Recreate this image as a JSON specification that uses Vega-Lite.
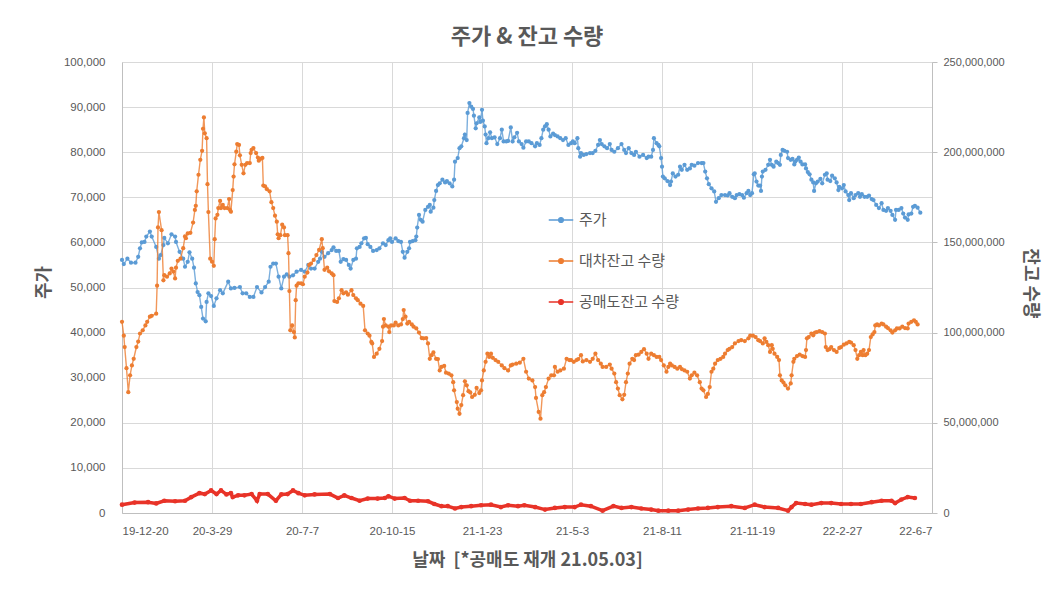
{
  "$schema": "https://vega.github.io/schema/vega-lite/v6.json",
  "width": 810,
  "height": 451,
  "autosize": {"type": "none"},
  "padding": {"left": 122, "top": 62, "right": 122, "bottom": 76},
  "background": "white",
  "title": {
    "text": "주가 & 잔고 수량",
    "font": "Noto Sans CJK KR",
    "fontSize": 22,
    "fontWeight": "bold",
    "color": "#595959",
    "anchor": "middle",
    "baseline": "bottom",
    "offset": 16,
    "dy": 31
  },
  "config": {
    "view": {"stroke": null},
    "axis": {
      "labelFont": "Liberation Sans",
      "labelFontSize": 11.5,
      "labelColor": "#595959",
      "titleFont": "Noto Sans CJK KR",
      "titleFontSize": 18,
      "titleFontWeight": "bold",
      "titleColor": "#595959",
      "gridColor": "#D9D9D9",
      "domainColor": "#BFBFBF",
      "tickColor": "#BFBFBF"
    }
  },
  "datasets": {
    "price": [
      {"d":"2019-12-20","v":56100},{"d":"2019-12-22","v":55200},{"d":"2019-12-26","v":56400},{"d":"2019-12-30","v":55500},
      {"d":"2020-01-04","v":55500},{"d":"2020-01-07","v":56800},{"d":"2020-01-09","v":58700},{"d":"2020-01-11","v":60000},
      {"d":"2020-01-14","v":60100},{"d":"2020-01-16","v":61300},{"d":"2020-01-20","v":62400},{"d":"2020-01-22","v":61300},
      {"d":"2020-01-27","v":59000},{"d":"2020-01-30","v":56400},{"d":"2020-02-01","v":57200},{"d":"2020-02-04","v":59400},
      {"d":"2020-02-05","v":61000},{"d":"2020-02-09","v":59800},{"d":"2020-02-13","v":61800},{"d":"2020-02-17","v":61300},
      {"d":"2020-02-18","v":60100},{"d":"2020-02-22","v":57900},{"d":"2020-02-26","v":56400},{"d":"2020-02-28","v":54600},
      {"d":"2020-03-02","v":55700},{"d":"2020-03-04","v":57800},{"d":"2020-03-07","v":56400},{"d":"2020-03-09","v":54400},
      {"d":"2020-03-11","v":50900},{"d":"2020-03-13","v":49000},{"d":"2020-03-15","v":48300},{"d":"2020-03-17","v":45700},
      {"d":"2020-03-19","v":43100},{"d":"2020-03-22","v":42500},{"d":"2020-03-23","v":46800},{"d":"2020-03-25","v":48700},
      {"d":"2020-03-28","v":48100},{"d":"2020-03-31","v":45900},{"d":"2020-04-03","v":47600},{"d":"2020-04-07","v":49400},
      {"d":"2020-04-10","v":48700},{"d":"2020-04-16","v":51300},{"d":"2020-04-19","v":49800},{"d":"2020-04-23","v":49900},
      {"d":"2020-04-29","v":50100},{"d":"2020-05-02","v":48700},{"d":"2020-05-06","v":48700},{"d":"2020-05-10","v":47900},
      {"d":"2020-05-14","v":47900},{"d":"2020-05-18","v":50100},{"d":"2020-05-23","v":48900},{"d":"2020-05-27","v":50100},
      {"d":"2020-05-31","v":51300},{"d":"2020-06-02","v":54600},{"d":"2020-06-05","v":55300},{"d":"2020-06-08","v":55300},
      {"d":"2020-06-11","v":52400},{"d":"2020-06-14","v":49800},{"d":"2020-06-17","v":52400},{"d":"2020-06-20","v":52900},
      {"d":"2020-06-23","v":52400},{"d":"2020-06-27","v":52700},{"d":"2020-07-01","v":53500},{"d":"2020-07-06","v":53900},
      {"d":"2020-07-10","v":53500},{"d":"2020-07-14","v":55000},{"d":"2020-07-17","v":54200},{"d":"2020-07-21","v":54200},
      {"d":"2020-07-25","v":55700},{"d":"2020-07-27","v":56400},{"d":"2020-07-29","v":57900},{"d":"2020-08-01","v":56800},
      {"d":"2020-08-05","v":57600},{"d":"2020-08-09","v":58300},{"d":"2020-08-11","v":58900},{"d":"2020-08-14","v":58100},
      {"d":"2020-08-17","v":58100},{"d":"2020-08-19","v":55700},{"d":"2020-08-22","v":56300},{"d":"2020-08-25","v":56100},
      {"d":"2020-08-28","v":55000},{"d":"2020-08-30","v":54200},{"d":"2020-09-02","v":56100},{"d":"2020-09-05","v":56400},
      {"d":"2020-09-06","v":58700},{"d":"2020-09-09","v":59000},{"d":"2020-09-11","v":59800},{"d":"2020-09-14","v":60900},
      {"d":"2020-09-16","v":61000},{"d":"2020-09-18","v":59600},{"d":"2020-09-21","v":59000},{"d":"2020-09-24","v":58100},
      {"d":"2020-09-28","v":58300},{"d":"2020-10-01","v":58700},{"d":"2020-10-05","v":59800},{"d":"2020-10-08","v":59400},
      {"d":"2020-10-11","v":60500},{"d":"2020-10-13","v":60900},{"d":"2020-10-15","v":60100},{"d":"2020-10-19","v":60900},
      {"d":"2020-10-22","v":60300},{"d":"2020-10-25","v":60100},{"d":"2020-10-27","v":57900},{"d":"2020-10-29","v":56600},
      {"d":"2020-11-01","v":57900},{"d":"2020-11-03","v":58700},{"d":"2020-11-04","v":60100},{"d":"2020-11-07","v":60300},
      {"d":"2020-11-10","v":60500},{"d":"2020-11-11","v":61300},{"d":"2020-11-12","v":63300},{"d":"2020-11-14","v":66100},
      {"d":"2020-11-16","v":65000},{"d":"2020-11-18","v":64600},{"d":"2020-11-21","v":67200},{"d":"2020-11-24","v":67900},
      {"d":"2020-11-26","v":68300},{"d":"2020-11-27","v":66800},{"d":"2020-11-30","v":67700},{"d":"2020-12-01","v":69400},
      {"d":"2020-12-03","v":71400},{"d":"2020-12-05","v":72700},{"d":"2020-12-07","v":73100},{"d":"2020-12-10","v":73900},
      {"d":"2020-12-13","v":73300},{"d":"2020-12-15","v":73600},{"d":"2020-12-18","v":73100},{"d":"2020-12-21","v":72400},
      {"d":"2020-12-23","v":73900},{"d":"2020-12-24","v":77900},{"d":"2020-12-27","v":78700},{"d":"2020-12-29","v":80900},
      {"d":"2020-12-31","v":81300},{"d":"2021-01-03","v":83100},{"d":"2021-01-04","v":83900},{"d":"2021-01-06","v":82700},
      {"d":"2021-01-07","v":88700},{"d":"2021-01-09","v":90900},{"d":"2021-01-11","v":90100},{"d":"2021-01-13","v":89600},
      {"d":"2021-01-14","v":88100},{"d":"2021-01-16","v":85300},{"d":"2021-01-17","v":86400},{"d":"2021-01-20","v":87700},
      {"d":"2021-01-21","v":86700},{"d":"2021-01-23","v":89400},{"d":"2021-01-24","v":87000},{"d":"2021-01-26","v":85700},
      {"d":"2021-01-27","v":83900},{"d":"2021-01-28","v":82000},{"d":"2021-01-30","v":83100},{"d":"2021-02-01","v":84400},
      {"d":"2021-02-03","v":83100},{"d":"2021-02-06","v":83300},{"d":"2021-02-09","v":81800},{"d":"2021-02-12","v":83100},
      {"d":"2021-02-14","v":85000},{"d":"2021-02-16","v":82400},{"d":"2021-02-19","v":82400},{"d":"2021-02-21","v":82500},
      {"d":"2021-02-24","v":85500},{"d":"2021-02-26","v":82400},{"d":"2021-02-28","v":83300},{"d":"2021-03-03","v":84300},
      {"d":"2021-03-05","v":82400},{"d":"2021-03-08","v":81800},{"d":"2021-03-10","v":81000},{"d":"2021-03-13","v":82400},
      {"d":"2021-03-16","v":82400},{"d":"2021-03-19","v":82000},{"d":"2021-03-23","v":81300},{"d":"2021-03-25","v":82000},
      {"d":"2021-03-28","v":81600},{"d":"2021-03-30","v":83100},{"d":"2021-04-01","v":85000},{"d":"2021-04-03","v":85700},
      {"d":"2021-04-05","v":86200},{"d":"2021-04-07","v":85000},{"d":"2021-04-09","v":83500},{"d":"2021-04-12","v":84100},
      {"d":"2021-04-14","v":83800},{"d":"2021-04-17","v":83500},{"d":"2021-04-20","v":83100},{"d":"2021-04-23","v":82700},
      {"d":"2021-04-26","v":83100},{"d":"2021-04-29","v":81600},{"d":"2021-05-02","v":82000},{"d":"2021-05-04","v":82400},
      {"d":"2021-05-06","v":82000},{"d":"2021-05-09","v":83100},{"d":"2021-05-10","v":80900},{"d":"2021-05-12","v":79000},
      {"d":"2021-05-13","v":79800},{"d":"2021-05-16","v":79400},{"d":"2021-05-19","v":79600},{"d":"2021-05-23","v":79800},
      {"d":"2021-05-26","v":79800},{"d":"2021-05-29","v":80300},{"d":"2021-06-01","v":81600},{"d":"2021-06-03","v":82700},
      {"d":"2021-06-05","v":81800},{"d":"2021-06-08","v":81300},{"d":"2021-06-11","v":80900},{"d":"2021-06-14","v":81800},
      {"d":"2021-06-16","v":80500},{"d":"2021-06-19","v":80100},{"d":"2021-06-23","v":80900},{"d":"2021-06-27","v":81800},
      {"d":"2021-06-30","v":80500},{"d":"2021-07-02","v":79800},{"d":"2021-07-05","v":80900},{"d":"2021-07-08","v":79800},
      {"d":"2021-07-11","v":79400},{"d":"2021-07-13","v":80100},{"d":"2021-07-17","v":79000},{"d":"2021-07-21","v":79400},
      {"d":"2021-07-25","v":78700},{"d":"2021-07-27","v":79000},{"d":"2021-07-30","v":79000},{"d":"2021-08-01","v":80500},
      {"d":"2021-08-02","v":83100},{"d":"2021-08-05","v":82000},{"d":"2021-08-07","v":81600},{"d":"2021-08-08","v":81300},
      {"d":"2021-08-10","v":78700},{"d":"2021-08-11","v":76800},{"d":"2021-08-12","v":74600},{"d":"2021-08-14","v":74200},
      {"d":"2021-08-17","v":73600},{"d":"2021-08-20","v":72700},{"d":"2021-08-21","v":73500},{"d":"2021-08-23","v":75300},
      {"d":"2021-08-26","v":74600},{"d":"2021-08-29","v":75000},{"d":"2021-08-31","v":76800},{"d":"2021-09-02","v":76100},
      {"d":"2021-09-05","v":77200},{"d":"2021-09-08","v":76100},{"d":"2021-09-11","v":76400},{"d":"2021-09-13","v":77200},
      {"d":"2021-09-16","v":77000},{"d":"2021-09-20","v":77600},{"d":"2021-09-24","v":77600},{"d":"2021-09-26","v":77600},
      {"d":"2021-09-28","v":75700},{"d":"2021-09-30","v":74200},{"d":"2021-10-02","v":72900},{"d":"2021-10-05","v":72000},
      {"d":"2021-10-08","v":71300},{"d":"2021-10-10","v":69000},{"d":"2021-10-13","v":69800},{"d":"2021-10-16","v":70500},
      {"d":"2021-10-20","v":70500},{"d":"2021-10-23","v":70400},{"d":"2021-10-25","v":70900},{"d":"2021-10-28","v":70100},
      {"d":"2021-10-31","v":69800},{"d":"2021-11-02","v":70500},{"d":"2021-11-05","v":70700},{"d":"2021-11-08","v":70500},
      {"d":"2021-11-10","v":69900},{"d":"2021-11-13","v":70900},{"d":"2021-11-15","v":71400},{"d":"2021-11-17","v":70500},
      {"d":"2021-11-19","v":70900},{"d":"2021-11-21","v":75100},{"d":"2021-11-22","v":75300},{"d":"2021-11-24","v":73500},
      {"d":"2021-11-26","v":72600},{"d":"2021-11-28","v":72600},{"d":"2021-11-29","v":71400},{"d":"2021-11-30","v":74600},
      {"d":"2021-12-01","v":75700},{"d":"2021-12-04","v":76100},{"d":"2021-12-07","v":77200},{"d":"2021-12-09","v":78300},
      {"d":"2021-12-11","v":77200},{"d":"2021-12-13","v":76800},{"d":"2021-12-16","v":77900},{"d":"2021-12-18","v":77600},
      {"d":"2021-12-20","v":77200},{"d":"2021-12-21","v":79400},{"d":"2021-12-23","v":80500},{"d":"2021-12-25","v":80300},
      {"d":"2021-12-28","v":80100},{"d":"2021-12-29","v":78700},{"d":"2022-01-01","v":78300},{"d":"2022-01-03","v":78500},
      {"d":"2022-01-05","v":77300},{"d":"2022-01-06","v":77900},{"d":"2022-01-08","v":78300},{"d":"2022-01-10","v":78800},
      {"d":"2022-01-12","v":77900},{"d":"2022-01-14","v":77300},{"d":"2022-01-17","v":77300},{"d":"2022-01-18","v":76400},
      {"d":"2022-01-20","v":75600},{"d":"2022-01-22","v":75100},{"d":"2022-01-24","v":73900},{"d":"2022-01-26","v":73300},
      {"d":"2022-01-27","v":71400},{"d":"2022-01-29","v":73100},{"d":"2022-01-31","v":73500},{"d":"2022-02-03","v":74100},
      {"d":"2022-02-05","v":73100},{"d":"2022-02-08","v":75000},{"d":"2022-02-10","v":75300},{"d":"2022-02-11","v":73900},
      {"d":"2022-02-14","v":73600},{"d":"2022-02-16","v":74800},{"d":"2022-02-19","v":74200},{"d":"2022-02-21","v":73300},
      {"d":"2022-02-23","v":71600},{"d":"2022-02-24","v":72300},{"d":"2022-02-27","v":72000},{"d":"2022-03-01","v":72700},
      {"d":"2022-03-03","v":71300},{"d":"2022-03-06","v":70500},{"d":"2022-03-07","v":69400},{"d":"2022-03-09","v":70900},
      {"d":"2022-03-12","v":69800},{"d":"2022-03-14","v":70500},{"d":"2022-03-17","v":70900},{"d":"2022-03-19","v":70100},
      {"d":"2022-03-21","v":70700},{"d":"2022-03-24","v":70100},{"d":"2022-03-27","v":70100},{"d":"2022-03-29","v":70400},
      {"d":"2022-04-01","v":69600},{"d":"2022-04-03","v":69400},{"d":"2022-04-06","v":68300},{"d":"2022-04-09","v":67600},
      {"d":"2022-04-12","v":68700},{"d":"2022-04-14","v":67200},{"d":"2022-04-17","v":67000},{"d":"2022-04-19","v":67600},
      {"d":"2022-04-22","v":67000},{"d":"2022-04-24","v":66100},{"d":"2022-04-27","v":65000},{"d":"2022-04-28","v":67200},
      {"d":"2022-05-01","v":67200},{"d":"2022-05-04","v":67600},{"d":"2022-05-06","v":66400},{"d":"2022-05-08","v":65500},
      {"d":"2022-05-11","v":65000},{"d":"2022-05-12","v":66200},{"d":"2022-05-15","v":66400},{"d":"2022-05-17","v":67900},
      {"d":"2022-05-19","v":68100},{"d":"2022-05-22","v":67700},{"d":"2022-05-25","v":66600}
    ],
    "lend": [
      {"d":"2019-12-20","v":106000000},{"d":"2019-12-22","v":98300000},{"d":"2019-12-23","v":92000000},{"d":"2019-12-25","v":80300000},
      {"d":"2019-12-27","v":67000000},{"d":"2019-12-29","v":76300000},{"d":"2019-12-31","v":81800000},{"d":"2020-01-02","v":85500000},
      {"d":"2020-01-05","v":92000000},{"d":"2020-01-07","v":95000000},{"d":"2020-01-09","v":99500000},{"d":"2020-01-12","v":101300000},
      {"d":"2020-01-15","v":104000000},{"d":"2020-01-17","v":106000000},{"d":"2020-01-20","v":108800000},{"d":"2020-01-22","v":109300000},
      {"d":"2020-01-27","v":110500000},{"d":"2020-01-28","v":126000000},{"d":"2020-01-29","v":158300000},{"d":"2020-01-30","v":166800000},
      {"d":"2020-02-02","v":156800000},{"d":"2020-02-04","v":129000000},{"d":"2020-02-05","v":131800000},{"d":"2020-02-08","v":131000000},
      {"d":"2020-02-11","v":132800000},{"d":"2020-02-13","v":135500000},{"d":"2020-02-15","v":133800000},{"d":"2020-02-17","v":130000000},
      {"d":"2020-02-18","v":136000000},{"d":"2020-02-20","v":139800000},{"d":"2020-02-23","v":141000000},{"d":"2020-02-26","v":146800000},
      {"d":"2020-02-28","v":153300000},{"d":"2020-02-29","v":152300000},{"d":"2020-03-02","v":155000000},{"d":"2020-03-05","v":155300000},
      {"d":"2020-03-08","v":161000000},{"d":"2020-03-10","v":168000000},{"d":"2020-03-11","v":170300000},{"d":"2020-03-12","v":178300000},
      {"d":"2020-03-14","v":187500000},{"d":"2020-03-16","v":195800000},{"d":"2020-03-18","v":200800000},{"d":"2020-03-19","v":213000000},
      {"d":"2020-03-20","v":219300000},{"d":"2020-03-21","v":210500000},{"d":"2020-03-23","v":207800000},{"d":"2020-03-24","v":182300000},
      {"d":"2020-03-25","v":166800000},{"d":"2020-03-27","v":141000000},{"d":"2020-03-29","v":139300000},{"d":"2020-03-31","v":137000000},
      {"d":"2020-04-01","v":151800000},{"d":"2020-04-02","v":163300000},{"d":"2020-04-04","v":165300000},{"d":"2020-04-05","v":169000000},
      {"d":"2020-04-07","v":173000000},{"d":"2020-04-08","v":169000000},{"d":"2020-04-10","v":170800000},{"d":"2020-04-12","v":169000000},
      {"d":"2020-04-15","v":169000000},{"d":"2020-04-17","v":174000000},{"d":"2020-04-18","v":168000000},{"d":"2020-04-19","v":167000000},
      {"d":"2020-04-21","v":179000000},{"d":"2020-04-22","v":186500000},{"d":"2020-04-23","v":193300000},{"d":"2020-04-25","v":200300000},
      {"d":"2020-04-26","v":204500000},{"d":"2020-04-28","v":204000000},{"d":"2020-04-29","v":198300000},{"d":"2020-05-01","v":193000000},
      {"d":"2020-05-03","v":188300000},{"d":"2020-05-05","v":193000000},{"d":"2020-05-07","v":194000000},{"d":"2020-05-10","v":194000000},
      {"d":"2020-05-11","v":199500000},{"d":"2020-05-12","v":201300000},{"d":"2020-05-14","v":202300000},{"d":"2020-05-17","v":199500000},
      {"d":"2020-05-19","v":197000000},{"d":"2020-05-20","v":195300000},{"d":"2020-05-22","v":196300000},{"d":"2020-05-24","v":196800000},
      {"d":"2020-05-25","v":181500000},{"d":"2020-05-27","v":181000000},{"d":"2020-05-29","v":179500000},{"d":"2020-06-01","v":178300000},
      {"d":"2020-06-03","v":172300000},{"d":"2020-06-05","v":169000000},{"d":"2020-06-07","v":164800000},{"d":"2020-06-09","v":161500000},
      {"d":"2020-06-10","v":154500000},{"d":"2020-06-11","v":152300000},{"d":"2020-06-13","v":154000000},{"d":"2020-06-15","v":159800000},
      {"d":"2020-06-17","v":158300000},{"d":"2020-06-18","v":154000000},{"d":"2020-06-21","v":154000000},{"d":"2020-06-22","v":144000000},
      {"d":"2020-06-23","v":123000000},{"d":"2020-06-24","v":101300000},{"d":"2020-06-26","v":104000000},{"d":"2020-06-28","v":100300000},
      {"d":"2020-06-29","v":97300000},{"d":"2020-06-30","v":118000000},{"d":"2020-07-01","v":126000000},{"d":"2020-07-03","v":127300000},
      {"d":"2020-07-06","v":127300000},{"d":"2020-07-08","v":126800000},{"d":"2020-07-10","v":131000000},{"d":"2020-07-13","v":133300000},
      {"d":"2020-07-15","v":137500000},{"d":"2020-07-17","v":138300000},{"d":"2020-07-20","v":140300000},{"d":"2020-07-23","v":143000000},
      {"d":"2020-07-26","v":145800000},{"d":"2020-07-29","v":151800000},{"d":"2020-07-30","v":146800000},{"d":"2020-08-01","v":134800000},
      {"d":"2020-08-04","v":136000000},{"d":"2020-08-06","v":134000000},{"d":"2020-08-09","v":132800000},{"d":"2020-08-11","v":131800000},
      {"d":"2020-08-12","v":117500000},{"d":"2020-08-15","v":117000000},{"d":"2020-08-17","v":119000000},{"d":"2020-08-20","v":123500000},
      {"d":"2020-08-22","v":121800000},{"d":"2020-08-25","v":122300000},{"d":"2020-08-27","v":121000000},{"d":"2020-08-31","v":123500000},
      {"d":"2020-09-02","v":120800000},{"d":"2020-09-05","v":119000000},{"d":"2020-09-07","v":118000000},{"d":"2020-09-10","v":116000000},
      {"d":"2020-09-13","v":114800000},{"d":"2020-09-15","v":101300000},{"d":"2020-09-18","v":99500000},{"d":"2020-09-20","v":98300000},
      {"d":"2020-09-22","v":94800000},{"d":"2020-09-23","v":94000000},{"d":"2020-09-25","v":86500000},{"d":"2020-09-28","v":88300000},
      {"d":"2020-10-01","v":91000000},{"d":"2020-10-04","v":95300000},{"d":"2020-10-05","v":103300000},{"d":"2020-10-06","v":107500000},
      {"d":"2020-10-08","v":104000000},{"d":"2020-10-11","v":103300000},{"d":"2020-10-12","v":100300000},{"d":"2020-10-14","v":104000000},
      {"d":"2020-10-17","v":104000000},{"d":"2020-10-19","v":105500000},{"d":"2020-10-22","v":104000000},{"d":"2020-10-25","v":104500000},
      {"d":"2020-10-27","v":107500000},{"d":"2020-10-28","v":112500000},{"d":"2020-10-30","v":108800000},{"d":"2020-11-01","v":105000000},
      {"d":"2020-11-03","v":106000000},{"d":"2020-11-06","v":104500000},{"d":"2020-11-08","v":103300000},{"d":"2020-11-11","v":102300000},
      {"d":"2020-11-14","v":100000000},{"d":"2020-11-17","v":97000000},{"d":"2020-11-19","v":96800000},{"d":"2020-11-22","v":97000000},
      {"d":"2020-11-24","v":94000000},{"d":"2020-11-26","v":85500000},{"d":"2020-11-28","v":87500000},{"d":"2020-11-30","v":89000000},
      {"d":"2020-12-03","v":85500000},{"d":"2020-12-05","v":85300000},{"d":"2020-12-07","v":79000000},{"d":"2020-12-09","v":81000000},
      {"d":"2020-12-12","v":81500000},{"d":"2020-12-14","v":77800000},{"d":"2020-12-17","v":77300000},{"d":"2020-12-20","v":76300000},
      {"d":"2020-12-22","v":72500000},{"d":"2020-12-23","v":68000000},{"d":"2020-12-26","v":61500000},{"d":"2020-12-27","v":57800000},
      {"d":"2020-12-29","v":55000000},{"d":"2020-12-31","v":59800000},{"d":"2021-01-02","v":65300000},{"d":"2021-01-04","v":73000000},
      {"d":"2021-01-06","v":70800000},{"d":"2021-01-08","v":67500000},{"d":"2021-01-10","v":66800000},{"d":"2021-01-12","v":64300000},
      {"d":"2021-01-15","v":65500000},{"d":"2021-01-17","v":69300000},{"d":"2021-01-20","v":66500000},{"d":"2021-01-22","v":68000000},
      {"d":"2021-01-23","v":73500000},{"d":"2021-01-25","v":79000000},{"d":"2021-01-27","v":83800000},{"d":"2021-01-29","v":88300000},
      {"d":"2021-01-31","v":86500000},{"d":"2021-02-02","v":88300000},{"d":"2021-02-04","v":86000000},{"d":"2021-02-07","v":84800000},
      {"d":"2021-02-10","v":83800000},{"d":"2021-02-14","v":81800000},{"d":"2021-02-17","v":80300000},{"d":"2021-02-21","v":79000000},
      {"d":"2021-02-24","v":81800000},{"d":"2021-02-26","v":82300000},{"d":"2021-03-02","v":82800000},{"d":"2021-03-06","v":83300000},
      {"d":"2021-03-10","v":85500000},{"d":"2021-03-13","v":78300000},{"d":"2021-03-16","v":74500000},{"d":"2021-03-20","v":73500000},
      {"d":"2021-03-23","v":69800000},{"d":"2021-03-24","v":63800000},{"d":"2021-03-27","v":56000000},{"d":"2021-03-29","v":52300000},
      {"d":"2021-03-31","v":65300000},{"d":"2021-04-02","v":67000000},{"d":"2021-04-04","v":69800000},{"d":"2021-04-07","v":74500000},
      {"d":"2021-04-10","v":76300000},{"d":"2021-04-13","v":76300000},{"d":"2021-04-14","v":81000000},{"d":"2021-04-17","v":78300000},
      {"d":"2021-04-20","v":79000000},{"d":"2021-04-24","v":80000000},{"d":"2021-04-27","v":85500000},{"d":"2021-04-30","v":84800000},
      {"d":"2021-05-02","v":84800000},{"d":"2021-05-05","v":83800000},{"d":"2021-05-08","v":84800000},{"d":"2021-05-10","v":85300000},
      {"d":"2021-05-13","v":87500000},{"d":"2021-05-15","v":84000000},{"d":"2021-05-19","v":84800000},{"d":"2021-05-23","v":83800000},
      {"d":"2021-05-26","v":85500000},{"d":"2021-05-29","v":88300000},{"d":"2021-06-01","v":84800000},{"d":"2021-06-04","v":82800000},
      {"d":"2021-06-06","v":81000000},{"d":"2021-06-10","v":81000000},{"d":"2021-06-14","v":82300000},{"d":"2021-06-16","v":80000000},
      {"d":"2021-06-19","v":77300000},{"d":"2021-06-21","v":72500000},{"d":"2021-06-23","v":69000000},{"d":"2021-06-25","v":65300000},
      {"d":"2021-06-28","v":63000000},{"d":"2021-06-30","v":65500000},{"d":"2021-07-02","v":72500000},{"d":"2021-07-04","v":77300000},
      {"d":"2021-07-06","v":82800000},{"d":"2021-07-09","v":85500000},{"d":"2021-07-11","v":84800000},{"d":"2021-07-13","v":87500000},
      {"d":"2021-07-16","v":87800000},{"d":"2021-07-19","v":89300000},{"d":"2021-07-22","v":90800000},{"d":"2021-07-25","v":88300000},
      {"d":"2021-07-27","v":85500000},{"d":"2021-07-30","v":88300000},{"d":"2021-08-02","v":87500000},{"d":"2021-08-05","v":86500000},
      {"d":"2021-08-08","v":86500000},{"d":"2021-08-10","v":84800000},{"d":"2021-08-13","v":81800000},{"d":"2021-08-16","v":78300000},
      {"d":"2021-08-18","v":81000000},{"d":"2021-08-20","v":82800000},{"d":"2021-08-22","v":81800000},{"d":"2021-08-25","v":81000000},
      {"d":"2021-08-28","v":80000000},{"d":"2021-08-31","v":81000000},{"d":"2021-09-02","v":79800000},{"d":"2021-09-05","v":79000000},
      {"d":"2021-09-08","v":78300000},{"d":"2021-09-11","v":74500000},{"d":"2021-09-13","v":76300000},{"d":"2021-09-16","v":77800000},
      {"d":"2021-09-19","v":76300000},{"d":"2021-09-22","v":72500000},{"d":"2021-09-24","v":69000000},{"d":"2021-09-26","v":68000000},
      {"d":"2021-09-29","v":64300000},{"d":"2021-10-01","v":66000000},{"d":"2021-10-03","v":69800000},{"d":"2021-10-05","v":78300000},
      {"d":"2021-10-07","v":80000000},{"d":"2021-10-09","v":82800000},{"d":"2021-10-12","v":84800000},{"d":"2021-10-15","v":85500000},
      {"d":"2021-10-18","v":86500000},{"d":"2021-10-20","v":88300000},{"d":"2021-10-23","v":90300000},{"d":"2021-10-25","v":91000000},
      {"d":"2021-10-28","v":92000000},{"d":"2021-10-31","v":94000000},{"d":"2021-11-04","v":95300000},{"d":"2021-11-07","v":95800000},
      {"d":"2021-11-11","v":95300000},{"d":"2021-11-15","v":96800000},{"d":"2021-11-17","v":98300000},{"d":"2021-11-20","v":98300000},
      {"d":"2021-11-23","v":97500000},{"d":"2021-11-26","v":95800000},{"d":"2021-11-28","v":95300000},{"d":"2021-12-01","v":94000000},
      {"d":"2021-12-03","v":96800000},{"d":"2021-12-05","v":94800000},{"d":"2021-12-07","v":93000000},{"d":"2021-12-09","v":89300000},
      {"d":"2021-12-11","v":93000000},{"d":"2021-12-12","v":91000000},{"d":"2021-12-14","v":88300000},{"d":"2021-12-17","v":86500000},
      {"d":"2021-12-19","v":84800000},{"d":"2021-12-20","v":76300000},{"d":"2021-12-22","v":73500000},{"d":"2021-12-24","v":72300000},
      {"d":"2021-12-26","v":70800000},{"d":"2021-12-29","v":69000000},{"d":"2022-01-01","v":71800000},{"d":"2022-01-02","v":76300000},
      {"d":"2022-01-04","v":83800000},{"d":"2022-01-05","v":85500000},{"d":"2022-01-08","v":87000000},{"d":"2022-01-11","v":87800000},
      {"d":"2022-01-14","v":87000000},{"d":"2022-01-17","v":86500000},{"d":"2022-01-18","v":90300000},{"d":"2022-01-19","v":96800000},
      {"d":"2022-01-21","v":97500000},{"d":"2022-01-24","v":99500000},{"d":"2022-01-26","v":98500000},{"d":"2022-01-28","v":100000000},
      {"d":"2022-01-30","v":100300000},{"d":"2022-02-02","v":100800000},{"d":"2022-02-05","v":100300000},{"d":"2022-02-08","v":99500000},
      {"d":"2022-02-09","v":92000000},{"d":"2022-02-11","v":90300000},{"d":"2022-02-13","v":90800000},{"d":"2022-02-15","v":92000000},
      {"d":"2022-02-18","v":90300000},{"d":"2022-02-21","v":89300000},{"d":"2022-02-24","v":91500000},{"d":"2022-02-26","v":92000000},
      {"d":"2022-03-01","v":93300000},{"d":"2022-03-04","v":94000000},{"d":"2022-03-07","v":94800000},{"d":"2022-03-09","v":94500000},
      {"d":"2022-03-12","v":93000000},{"d":"2022-03-14","v":90300000},{"d":"2022-03-16","v":85500000},{"d":"2022-03-18","v":87500000},
      {"d":"2022-03-20","v":89300000},{"d":"2022-03-22","v":87500000},{"d":"2022-03-23","v":90300000},{"d":"2022-03-25","v":87500000},
      {"d":"2022-03-27","v":88300000},{"d":"2022-03-29","v":90300000},{"d":"2022-03-31","v":97500000},{"d":"2022-04-02","v":99000000},
      {"d":"2022-04-04","v":100300000},{"d":"2022-04-05","v":104000000},{"d":"2022-04-07","v":104500000},{"d":"2022-04-09","v":104000000},
      {"d":"2022-04-12","v":105000000},{"d":"2022-04-14","v":104500000},{"d":"2022-04-17","v":103300000},{"d":"2022-04-19","v":102500000},
      {"d":"2022-04-22","v":101300000},{"d":"2022-04-24","v":100000000},{"d":"2022-04-27","v":101300000},{"d":"2022-04-29","v":102300000},
      {"d":"2022-05-02","v":102300000},{"d":"2022-05-05","v":103300000},{"d":"2022-05-08","v":102500000},{"d":"2022-05-11","v":102300000},
      {"d":"2022-05-12","v":105000000},{"d":"2022-05-15","v":106000000},{"d":"2022-05-18","v":106800000},{"d":"2022-05-20","v":106000000},
      {"d":"2022-05-22","v":104500000}
    ],
    "short": [
      {"d":"2019-12-20","v":4600000},{"d":"2020-01-03","v":5800000},{"d":"2020-01-18","v":6000000},{"d":"2020-01-27","v":5300000},
      {"d":"2020-02-05","v":6800000},{"d":"2020-02-17","v":6500000},{"d":"2020-02-28","v":6800000},{"d":"2020-03-06","v":8800000},
      {"d":"2020-03-15","v":11000000},{"d":"2020-03-21","v":10500000},{"d":"2020-03-28","v":12500000},{"d":"2020-04-03","v":10500000},
      {"d":"2020-04-08","v":12500000},{"d":"2020-04-14","v":10300000},{"d":"2020-04-19","v":11000000},{"d":"2020-04-21","v":8800000},
      {"d":"2020-04-27","v":9800000},{"d":"2020-05-04","v":9800000},{"d":"2020-05-12","v":10500000},{"d":"2020-05-18","v":6800000},
      {"d":"2020-05-21","v":10500000},{"d":"2020-05-30","v":10500000},{"d":"2020-06-08","v":6800000},{"d":"2020-06-14","v":10300000},
      {"d":"2020-06-21","v":10500000},{"d":"2020-06-27","v":12500000},{"d":"2020-07-03","v":11000000},{"d":"2020-07-10","v":9800000},
      {"d":"2020-07-21","v":10300000},{"d":"2020-08-07","v":10500000},{"d":"2020-08-16","v":8300000},{"d":"2020-08-23","v":9800000},
      {"d":"2020-08-31","v":8300000},{"d":"2020-09-09","v":6800000},{"d":"2020-09-18","v":8000000},{"d":"2020-09-29","v":8000000},
      {"d":"2020-10-07","v":8300000},{"d":"2020-10-11","v":9300000},{"d":"2020-10-18","v":8000000},{"d":"2020-10-29","v":8300000},
      {"d":"2020-11-04","v":6800000},{"d":"2020-11-13","v":6800000},{"d":"2020-11-24","v":6500000},{"d":"2020-12-01","v":5000000},
      {"d":"2020-12-09","v":3800000},{"d":"2020-12-16","v":3800000},{"d":"2020-12-24","v":2500000},{"d":"2020-12-31","v":3300000},
      {"d":"2021-01-11","v":3800000},{"d":"2021-01-22","v":4300000},{"d":"2021-02-02","v":4600000},{"d":"2021-02-13","v":3300000},
      {"d":"2021-02-21","v":4300000},{"d":"2021-03-04","v":3800000},{"d":"2021-03-11","v":4300000},{"d":"2021-03-23","v":3300000},
      {"d":"2021-04-03","v":1900000},{"d":"2021-04-14","v":2800000},{"d":"2021-04-25","v":3300000},{"d":"2021-05-06","v":3300000},
      {"d":"2021-05-13","v":4600000},{"d":"2021-05-24","v":3800000},{"d":"2021-06-06","v":1300000},{"d":"2021-06-18","v":3800000},
      {"d":"2021-06-27","v":2800000},{"d":"2021-07-08","v":3300000},{"d":"2021-07-19","v":2500000},{"d":"2021-07-30","v":1900000},
      {"d":"2021-08-07","v":1300000},{"d":"2021-08-18","v":1300000},{"d":"2021-08-29","v":1300000},{"d":"2021-09-09","v":1900000},
      {"d":"2021-09-20","v":2500000},{"d":"2021-10-01","v":2800000},{"d":"2021-10-12","v":3300000},{"d":"2021-10-27","v":3800000},
      {"d":"2021-11-11","v":2800000},{"d":"2021-11-22","v":4600000},{"d":"2021-12-03","v":3300000},{"d":"2021-12-18","v":2800000},
      {"d":"2021-12-29","v":1300000},{"d":"2022-01-02","v":3300000},{"d":"2022-01-07","v":5500000},{"d":"2022-01-17","v":5000000},
      {"d":"2022-01-24","v":4600000},{"d":"2022-02-04","v":5500000},{"d":"2022-02-15","v":5500000},{"d":"2022-02-26","v":5000000},
      {"d":"2022-03-09","v":5000000},{"d":"2022-03-20","v":5000000},{"d":"2022-04-01","v":6000000},{"d":"2022-04-12","v":6800000},
      {"d":"2022-04-23","v":6800000},{"d":"2022-04-27","v":5500000},{"d":"2022-05-04","v":7500000},{"d":"2022-05-11","v":8800000},
      {"d":"2022-05-19","v":8300000}
    ]
  },
  "encoding": {
    "x": {
      "field": "d",
      "type": "temporal",
      "scale": {
        "type": "utc",
        "domain": [
          {"year": 2019, "month": 12, "date": 20, "utc": true},
          {"year": 2022, "month": 6, "date": 7, "utc": true}
        ]
      },
      "axis": {
        "values": [
          {"year": 2019, "month": 12, "date": 20, "utc": true},
          {"year": 2020, "month": 3, "date": 29, "utc": true},
          {"year": 2020, "month": 7, "date": 7, "utc": true},
          {"year": 2020, "month": 10, "date": 15, "utc": true},
          {"year": 2021, "month": 1, "date": 23, "utc": true},
          {"year": 2021, "month": 5, "date": 3, "utc": true},
          {"year": 2021, "month": 8, "date": 11, "utc": true},
          {"year": 2021, "month": 11, "date": 19, "utc": true},
          {"year": 2022, "month": 2, "date": 27, "utc": true},
          {"year": 2022, "month": 6, "date": 7, "utc": true}
        ],
        "format": "%y-%-m-%-d",
        "grid": true,
        "ticks": false,
        "labelPadding": 12,
        "labelOverlap": false,
        "title": "날짜 \u00a0[*공매도 재개 21.05.03]",
        "titleY": 47,
        "titleBaseline": "middle"
      }
    }
  },
  "layer": [
    {
      "data": {"name": "price"},
      "mark": {"type": "line", "strokeWidth": 1.4, "strokeOpacity": 0.8, "point": {"filled": true, "size": 18}},
      "encoding": {
        "y": {
          "field": "v",
          "type": "quantitative",
          "scale": {"domain": [0, 100000], "nice": false},
          "axis": {
            "orient": "left",
            "title": "주가",
            "values": [0, 10000, 20000, 30000, 40000, 50000, 60000, 70000, 80000, 90000, 100000],
            "format": ",d",
            "grid": true,
            "ticks": false,
            "labelPadding": 17,
            "titleX": -78,
            "titleY": 220,
            "titleAngle": 270,
            "titleAlign": "center",
            "titleBaseline": "middle"
          }
        },
        "color": {
          "datum": "주가",
          "scale": {
            "domain": ["주가", "대차잔고 수량", "공매도잔고 수량"],
            "range": ["#5B9BD5", "#ED7D31", "#E83328"]
          },
          "legend": {
            "orient": "none",
            "legendX": 426,
            "legendY": 145,
            "title": null,
            "direction": "vertical",
            "labelFont": "Noto Sans CJK KR",
            "labelFontSize": 15,
            "labelColor": "#595959",
            "labelOffset": 5,
            "rowPadding": 20,
            "symbolType": "M-1,0H1M-0.2,0A0.2,0.2,0,1,1,0.2,0A0.2,0.2,0,1,1,-0.2,0",
            "symbolSize": 600,
            "symbolStrokeWidth": 1.3
          }
        }
      }
    },
    {
      "encoding": {
        "y": {
          "field": "v",
          "type": "quantitative",
          "scale": {"domain": [0, 250000000], "nice": false},
          "axis": {
            "orient": "right",
            "title": "잔고 수량",
            "values": [0, 50000000, 100000000, 150000000, 200000000, 250000000],
            "format": ",d",
            "grid": false,
            "ticks": true,
            "tickSize": 5,
            "labelPadding": 6,
            "labelFontSize": 11,
            "titleX": 97,
            "titleY": 221,
            "titleAngle": 90,
            "titleAlign": "center",
            "titleBaseline": "middle"
          }
        }
      },
      "layer": [
        {
          "data": {"name": "lend"},
          "mark": {"type": "line", "strokeWidth": 1.4, "strokeOpacity": 0.8, "point": {"filled": true, "size": 18}},
          "encoding": {"color": {"datum": "대차잔고 수량"}}
        },
        {
          "data": {"name": "short"},
          "mark": {"type": "line", "strokeWidth": 3.5, "point": {"filled": true, "size": 22}},
          "encoding": {"color": {"datum": "공매도잔고 수량"}}
        }
      ]
    }
  ],
  "resolve": {"scale": {"y": "independent"}}
}
